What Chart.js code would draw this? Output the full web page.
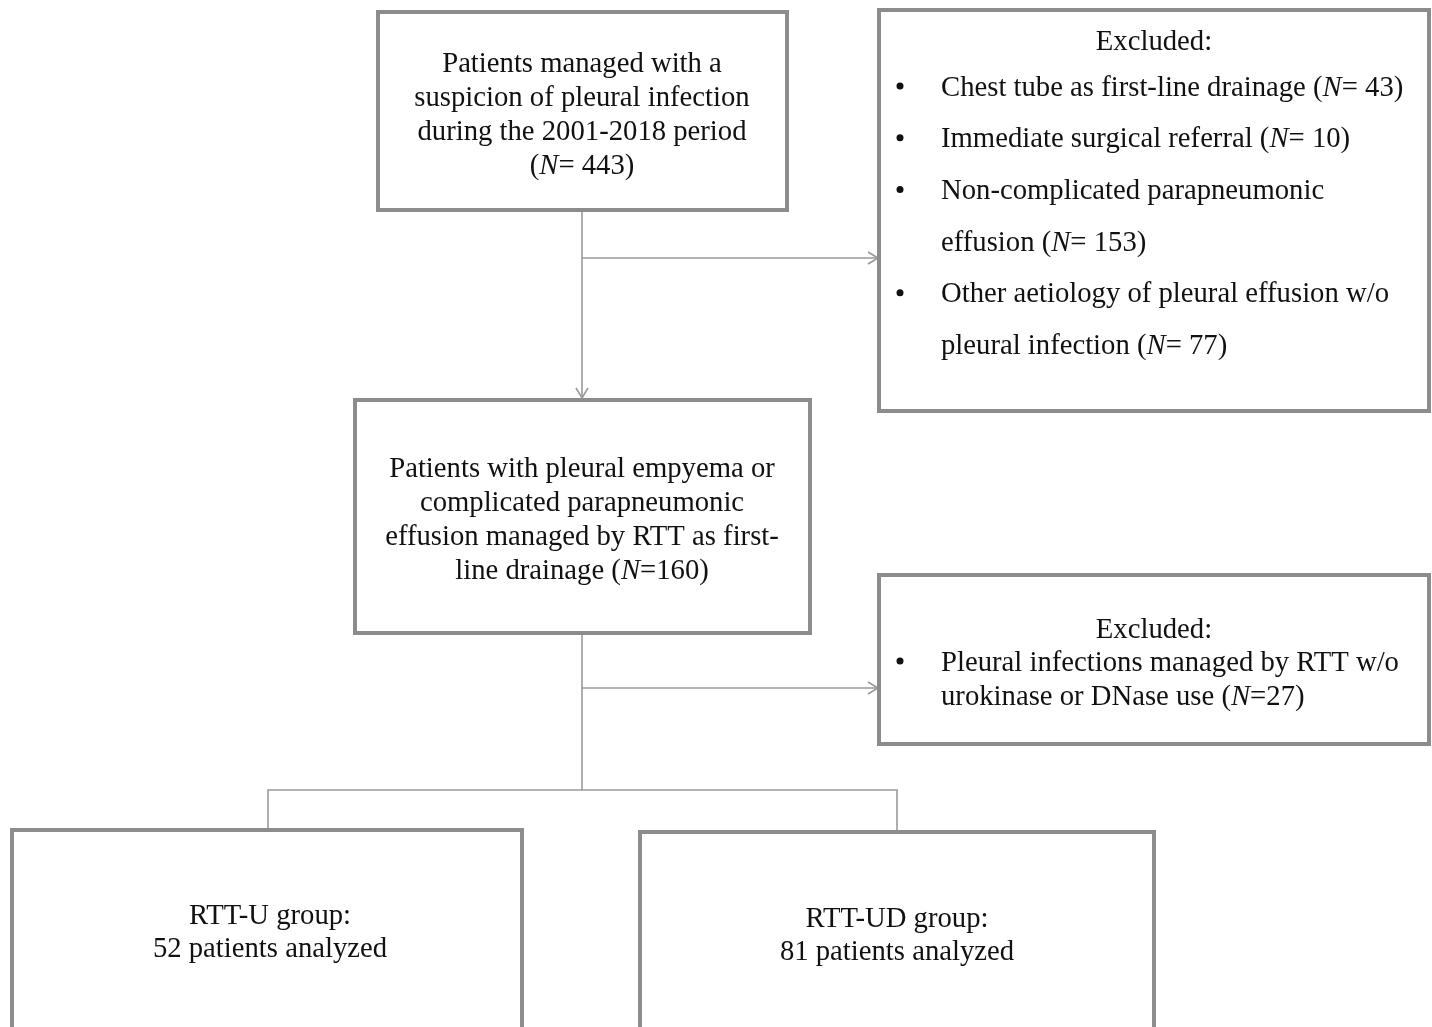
<!DOCTYPE html>
<html lang="en">
<head>
  <meta charset="UTF-8">
  <title>Flow chart - pleural infection cohort</title>
  <script src="https://cdn.jsdelivr.net/npm/chart.js"></script>
<style>
  html, body { margin: 0; padding: 0; background: #fff; }
  .wrap { width: 1432px; height: 1027px; position: relative; }
</style>
</head>
<body>
  <div class="wrap"><canvas id="flow"></canvas></div>
  <script>
    // Counts
    const totalN = 443;
    const excludedLabels = ['Chest tube as first-line drainage', 'Immediate surgical referral', 'Non-complicated parapneumonic effusion', 'Other aetiology of pleural effusion w/o pleural infection'];
    const excludedCounts = [43, 10, 153, 77];
    const rttN = 160;
    const excluded2Labels = ['Pleural infections managed by RTT w/o urokinase or DNase use'];
    const excluded2Counts = [27];
    const groupNames = ['RTT-U', 'RTT-UD'];
    const groupCounts = [52, 81];

    // Text lines; _N_ marks italic N
    const box1Lines = ['Patients managed with a', 'suspicion of pleural infection', 'during the 2001-2018 period', '(_N_= ' + totalN + ')'];
    const box2Items = [
      ['Chest tube as first-line drainage (_N_= ' + excludedCounts[0] + ')'],
      ['Immediate surgical referral (_N_= ' + excludedCounts[1] + ')'],
      ['Non-complicated parapneumonic', 'effusion (_N_= ' + excludedCounts[2] + ')'],
      ['Other aetiology of pleural effusion w/o', 'pleural infection (_N_= ' + excludedCounts[3] + ')']
    ];
    const box3Lines = ['Patients with pleural empyema or', 'complicated parapneumonic', 'effusion managed by RTT as first-', 'line drainage (_N_=' + rttN + ')'];
    const box4Items = [['Pleural infections managed by RTT w/o', 'urokinase or DNase use (_N_=' + excluded2Counts[0] + ')']];
    const groupLines = groupNames.map((g, i) => [g + ' group:', groupCounts[i] + ' patients analyzed']);

    const FONT = '"Liberation Serif", "Times New Roman", serif';
    const SIZE = 28.7;
    const BOX_COLOR = '#8c8c8c';
    const LINE_COLOR = '#9a9a9a';

    function segs(str) {
      return str.split('_').map((t, i) => ({ t: t, it: i % 2 === 1 })).filter(s => s.t.length);
    }
    function setFont(ctx, it) {
      ctx.font = (it ? 'italic ' : '') + SIZE + 'px ' + FONT;
    }
    function lineWidth(ctx, str) {
      return segs(str).reduce((w, s) => { setFont(ctx, s.it); return w + ctx.measureText(s.t).width; }, 0);
    }
    function drawLine(ctx, str, x, y, align) {
      let cx = align === 'center' ? x - lineWidth(ctx, str) / 2 : x;
      ctx.textBaseline = 'middle';
      ctx.textAlign = 'left';
      ctx.fillStyle = '#111';
      segs(str).forEach(s => {
        setFont(ctx, s.it);
        ctx.fillText(s.t, cx, y + 2);
        cx += ctx.measureText(s.t).width;
      });
    }

    const flowPlugin = {
      id: 'flow',
      afterDraw(chart) {
        const ctx = chart.ctx;
        const sx = v => chart.scales.x.getPixelForValue(v);
        const sy = v => chart.scales.y.getPixelForValue(v);

        function box(x0, y0, x1, y1) {
          ctx.save();
          ctx.strokeStyle = BOX_COLOR;
          ctx.lineWidth = 4;
          ctx.strokeRect(sx(x0), sy(y0), sx(x1) - sx(x0), sy(y1) - sy(y0));
          ctx.restore();
        }
        function path(pts) {
          ctx.save();
          ctx.strokeStyle = LINE_COLOR;
          ctx.lineWidth = 1.6;
          ctx.beginPath();
          pts.forEach((p, i) => i ? ctx.lineTo(sx(p[0]), sy(p[1])) : ctx.moveTo(sx(p[0]), sy(p[1])));
          ctx.stroke();
          ctx.restore();
        }
        function arrow(x, y, dir) {
          const a = 10, b = 6;
          ctx.save();
          ctx.strokeStyle = LINE_COLOR;
          ctx.lineWidth = 1.6;
          ctx.beginPath();
          const px = sx(x), py = sy(y);
          if (dir === 'right') {
            ctx.moveTo(px - a, py - b); ctx.lineTo(px, py); ctx.lineTo(px - a, py + b);
          } else {
            ctx.moveTo(px - b, py - a); ctx.lineTo(px, py); ctx.lineTo(px + b, py - a);
          }
          ctx.stroke();
          ctx.restore();
        }
        function centered(lines, cx, y0, step) {
          lines.forEach((l, i) => drawLine(ctx, l, sx(cx), sy(y0 + i * step), 'center'));
        }
        function bullets(items, bx, tx, y0, step) {
          let y = y0;
          items.forEach(item => {
            ctx.save();
            ctx.fillStyle = '#111';
            ctx.beginPath();
            ctx.arc(sx(bx), sy(y), 3.5, 0, Math.PI * 2);
            ctx.fill();
            ctx.restore();
            item.forEach(l => { drawLine(ctx, l, sx(tx), sy(y), 'left'); y += step; });
          });
        }

        // connectors
        path([[582, 210], [582, 398]]); arrow(582, 398, 'down');
        path([[582, 258], [878, 258]]); arrow(878, 258, 'right');
        path([[582, 633], [582, 790]]);
        path([[582, 688], [878, 688]]); arrow(878, 688, 'right');
        path([[268, 830], [268, 790], [897, 790], [897, 832]]);

        // boxes
        box(378, 12, 787, 210);
        box(879, 10, 1429, 411);
        box(355, 400, 810, 633);
        box(879, 575, 1429, 744);
        box(12, 830, 522, 1030);
        box(640, 832, 1154, 1030);

        // text
        centered(box1Lines, 582, 62, 34);
        centered(['Excluded:'], 1154, 40, 0);
        bullets(box2Items, 900, 941, 86, 51.7);
        centered(box3Lines, 582, 467, 34.3);
        centered(['Excluded:'], 1154, 628, 0);
        bullets(box4Items, 900, 941, 661, 34);
        centered(groupLines[0], 270, 914, 33);
        centered(groupLines[1], 897, 917, 33);
      }
    };

    new Chart(document.getElementById('flow').getContext('2d'), {
      type: 'scatter',
      data: { datasets: [{ data: [], pointRadius: 0 }] },
      options: {
        responsive: true,
        maintainAspectRatio: false,
        animation: false,
        layout: { padding: 0 },
        plugins: { legend: { display: false }, tooltip: { enabled: false } },
        scales: {
          x: { type: 'linear', min: 0, max: 1432, display: false },
          y: { type: 'linear', min: 0, max: 1027, reverse: true, display: false }
        }
      },
      plugins: [flowPlugin]
    });
  </script>
</body>
</html>
